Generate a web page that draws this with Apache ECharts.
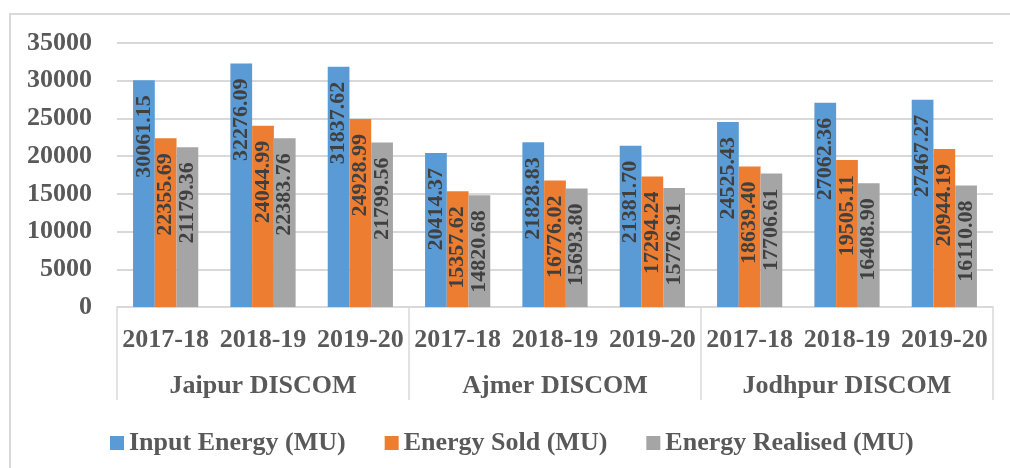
<!DOCTYPE html>
<html>
<head>
<meta charset="utf-8">
<script src="https://cdn.jsdelivr.net/npm/echarts@6/dist/echarts.min.js"></script>
<style>
html,body{margin:0;padding:0;background:#fff;}
#chart{width:1010px;height:468px;}
</style>
</head>
<body>
<div id="chart"></div>
<script>
const years = ['2017-18','2018-19','2019-20','2017-18','2018-19','2019-20','2017-18','2018-19','2019-20'];
const discoms = ['Jaipur DISCOM','Ajmer DISCOM','Jodhpur DISCOM'];
const seriesNames = ['Input Energy (MU)','Energy Sold (MU)','Energy Realised (MU)'];
const inputEnergy = [30061.15,32276.09,31837.62,20414.37,21828.83,21381.70,24525.43,27062.36,27467.27];
const energySold = [22355.69,24044.99,24928.99,15357.62,16776.02,17294.24,18639.40,19505.11,20944.19];
const energyRealised = [21179.36,22383.76,21799.56,14820.68,15693.80,15776.91,17706.61,16408.90,16110.08];
const colors = ['#5B9BD5','#ED7D31','#A5A5A5'];

const font = 'Liberation Serif';
const chart = echarts.init(document.getElementById('chart'));
function mk(name, data, color){
  return {
    name, type:'bar', data, xAxisIndex:0,
    barGap:'0%', barCategoryGap:'33%',
    itemStyle:{color},
    label:{
      show:true, position:'insideTop', rotate:90, align:'right', verticalAlign:'middle',
      distance:15, fontFamily:font, fontWeight:'bold', fontSize:22, color:'#404040',
      formatter:p=>p.value.toFixed(2)
    }
  };
}
chart.setOption({
  animation:false,
  graphic:[{type:'rect', shape:{x:10,y:14,width:1100,height:500}, style:{fill:'none', stroke:'#d9d9d9', lineWidth:2}, silent:true}],
  grid:{left:117,right:17,top:43,bottom:161},
  legend:{
    data:seriesNames, left:105, top:425, itemWidth:14, itemHeight:14, itemGap:39,
    icon:'rect',
    textStyle:{fontFamily:font,fontWeight:'bold',fontSize:26,color:'#595959'}
  },
  xAxis:[
    {type:'category', data:years, position:'bottom',
     axisLine:{show:true, lineStyle:{color:'#d9d9d9', width:1.5}},
     axisTick:{show:false},
     axisLabel:{interval:0, margin:20, fontFamily:font, fontWeight:'bold', fontSize:26, color:'#595959'}},
    {type:'category', data:discoms, position:'bottom', offset:0,
     axisLine:{show:false},
     axisTick:{show:true, length:93, lineStyle:{color:'#d9d9d9', width:1.5}},
     axisLabel:{interval:0, margin:66, fontFamily:font, fontWeight:'bold', fontSize:26, color:'#595959'}}
  ],
  yAxis:{
    type:'value', min:0, max:35000, interval:5000,
    axisLine:{show:false}, axisTick:{show:false},
    axisLabel:{margin:25, fontFamily:font, fontWeight:'bold', fontSize:26, color:'#595959', formatter:v=>String(v)},
    splitLine:{lineStyle:{color:'#d9d9d9', width:2}}
  },
  series:[mk(seriesNames[0],inputEnergy,colors[0]), mk(seriesNames[1],energySold,colors[1]), mk(seriesNames[2],energyRealised,colors[2])]
});
</script>
</body>
</html>
